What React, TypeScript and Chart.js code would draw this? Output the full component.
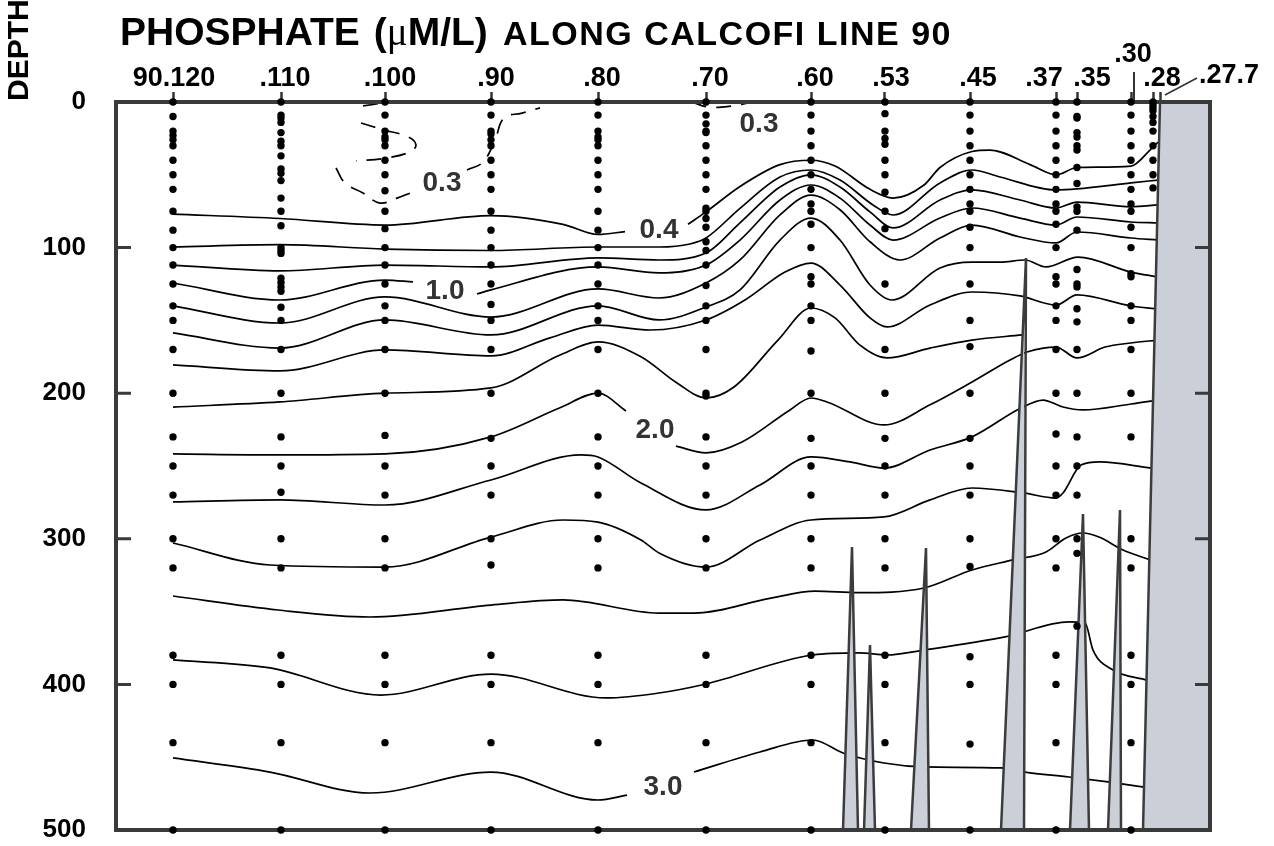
import React, { useEffect, useRef } from "react";
import { Chart, registerables } from "chart.js";

Chart.register(...registerables);

const FONT = '"Liberation Sans", Arial, Helvetica, sans-serif';

// ---------- stations (distance units along the line) ----------
const STATION_NAMES = ["90.120", ".110", ".100", ".90", ".80", ".70", ".60", ".53", ".45", ".37", ".35", ".30", ".28", ".27.7"];
const STATION_X = [57, 165, 269, 375, 482, 590, 695, 769, 854, 940, 961, 1015, 1037, 1044];
const STATION_DEPTHS: number[][] = [
  [0, 10, 20, 23, 26, 30, 40, 50, 60, 75, 88, 100, 112, 125, 140, 150, 170, 200, 230, 250, 270, 300, 320, 380, 400, 440, 500],
  [0, 9, 11, 14, 21, 27, 30, 37, 46, 49, 54, 66, 75, 85, 100, 102, 104, 121, 124, 127, 130, 141, 150, 170, 200, 230, 250, 268, 300, 320, 380, 400, 440, 500],
  [0, 9, 20, 24, 26, 30, 40, 50, 61, 75, 87, 100, 112, 125, 140, 150, 170, 200, 229, 250, 270, 300, 320, 380, 400, 440, 500],
  [0, 9, 20, 22, 26, 30, 40, 50, 60, 75, 88, 100, 112, 125, 139, 150, 170, 200, 231, 250, 270, 300, 318, 380, 400, 440, 500],
  [0, 9, 20, 24, 26, 30, 40, 50, 60, 75, 88, 100, 112, 125, 140, 150, 170, 200, 230, 250, 270, 300, 320, 380, 400, 440, 500],
  [0, 9, 15, 20, 21, 30, 40, 50, 60, 73, 75, 80, 86, 96, 102, 112, 126, 140, 150, 170, 200, 202, 230, 250, 270, 300, 320, 380, 400, 440, 500],
  [0, 9, 20, 30, 40, 50, 60, 70, 75, 84, 100, 120, 125, 140, 150, 171, 200, 231, 250, 270, 300, 320, 380, 400, 440, 500],
  [0, 8, 20, 25, 29, 40, 50, 62, 75, 87, 125, 170, 200, 231, 250, 270, 300, 320, 380, 400, 440, 500],
  [0, 9, 20, 30, 40, 50, 60, 70, 75, 86, 100, 125, 150, 168, 200, 231, 250, 270, 300, 319, 381, 400, 441, 500],
  [0, 9, 20, 30, 40, 50, 60, 70, 75, 84, 100, 120, 125, 140, 150, 170, 200, 228, 250, 270, 300, 320, 380, 400, 440, 500],
  [0, 10, 11, 21, 24, 30, 33, 45, 56, 72, 75, 88, 115, 125, 127, 142, 151, 170, 200, 230, 250, 270, 300, 310, 360],
  [0, 9, 20, 30, 40, 50, 60, 70, 75, 86, 100, 118, 120, 140, 150, 170, 200, 230, 300, 320, 380, 400, 440, 500],
  [0, 2, 4, 6, 10, 14, 20, 30, 40, 50, 59],
  [],
];
const DEPTH_TICKS = [0, 100, 200, 300, 400, 500];
const INNER_TICKS = [100, 200, 300, 400];

// ---------- phosphate isolines: [distance, depth m] ----------
const ISO_04_A = [[57, 77], [164, 80], [269, 84.5], [375, 78], [447, 84], [482, 91], [509, 89]];
const ISO_04_B = [[572, 84], [590, 75.5], [624, 58], [664, 43], [695, 40], [719, 44], [754, 60], [777, 66], [808, 57], [824, 45], [856, 34], [874, 33], [914, 43], [940, 50], [961, 45], [1015, 44], [1034, 33], [1042, 27.5]];
const ISO_05 = [[57, 99.6], [164, 98], [269, 101], [375, 102], [482, 99.6], [543, 99.6], [574, 97.5], [590, 93.4], [624, 73], [664, 51.5], [695, 46.7], [724, 53.6], [757, 70.7], [777, 77.6], [824, 55.6], [856, 46.7], [884, 51.5], [940, 60.4], [961, 59.7], [1015, 55.6], [1042, 53.6]];
const ISO_06 = [[57, 112], [164, 116], [269, 112], [375, 113.3], [482, 107], [543, 108.5], [590, 103.7], [624, 83], [664, 58.4], [695, 50], [724, 58.4], [754, 75.5], [777, 86.5], [824, 67.3], [856, 60.4], [904, 67.3], [940, 72.8], [961, 68.7], [1015, 72], [1042, 70.7]];
const ISO_10_A = [[57, 124.3], [164, 136], [269, 122.3], [297, 123.6]];
const ISO_10_B = [[361, 131.9], [375, 129], [482, 113.3], [543, 117.4], [590, 112], [624, 94.8], [664, 67.3], [695, 57], [724, 66], [754, 84.5], [777, 94.8], [824, 79.7], [856, 72.8], [904, 79.7], [940, 84.5], [961, 79], [1015, 82.4], [1042, 83.1]];
const ISO_12 = [[57, 140], [164, 151.8], [269, 133.9], [375, 147.7], [482, 128.4], [543, 134.6], [590, 124.3], [624, 108.5], [664, 77.6], [695, 64], [724, 74], [754, 96], [784, 108.5], [824, 93.4], [856, 84.5], [904, 92.7], [940, 96.8], [961, 89.3], [1015, 93.4], [1042, 94.8]];
const ISO_14 = [[57, 158.6], [164, 169], [269, 149.7], [375, 160], [482, 140], [543, 149.7], [590, 140.8], [624, 129], [664, 94.8], [695, 79.7], [724, 94.8], [754, 125.7], [776, 136], [824, 114], [856, 110], [884, 110], [909, 108.5], [930, 113.3], [962, 106.5], [1015, 116.8], [1042, 120.2]];
const ISO_16 = [[57, 180.6], [164, 184.7], [269, 170.3], [375, 174.4], [434, 162], [482, 153.2], [534, 156.6], [590, 149.7], [629, 136], [669, 116.8], [695, 110.6], [724, 125.7], [754, 148.3], [771, 154.5], [814, 139.4], [856, 130.5], [904, 133.2], [940, 139.4], [961, 132.5], [1015, 140.1], [1042, 142.2]];
const ISO_18 = [[57, 209.5], [164, 206], [269, 200], [375, 196.4], [444, 173.8], [482, 164.8], [525, 175], [561, 193], [590, 203.3], [618, 195.7], [662, 163.5], [695, 141.5], [719, 148.3], [744, 167], [771, 175.8], [814, 169], [856, 163.5], [906, 160]];
const ISO_20_A = [[57, 241.7], [164, 242.4], [269, 241.7], [375, 230], [444, 210], [482, 199.9], [510, 212.2]];
const ISO_20_B = [[560, 236.3], [590, 241], [626, 233.5], [674, 211.5], [695, 203.3], [711, 206], [768, 221.8], [814, 208], [856, 192.3], [894, 177.2], [911, 171.7], [940, 168.3], [961, 175.8], [989, 168.3], [1015, 165.5], [1042, 163.5]];
const ISO_22 = [[57, 274.7], [164, 273.3], [269, 276.8], [375, 259.6], [465, 242.4], [482, 243.8], [525, 261.7], [590, 280.2], [644, 263], [695, 243.8], [734, 247.2], [768, 251.4], [814, 239], [856, 230], [905, 210.2], [927, 204.7], [947, 209.5], [967, 211.5], [1015, 207.4], [1042, 204.7]];
const ISO_24 = [[57, 302.9], [154, 318], [269, 319.4], [375, 298.8], [447, 287.1], [482, 288.5], [525, 300.8], [543, 309.7], [590, 319.4], [644, 300.8], [695, 287.1], [768, 285], [814, 273.3], [856, 265.1], [907, 268.5], [940, 272], [947, 268.5], [965, 249.3], [984, 247.2], [1035, 251.4]];
const ISO_26 = [[57, 339.3], [162, 348.9], [254, 353.7], [375, 345.5], [447, 342], [543, 351], [578, 351], [655, 340.7], [699, 336], [743, 337], [808, 333.8], [856, 321.4], [897, 314.5], [930, 309], [950, 299.4], [967, 296], [983, 298.8], [1007, 307.7], [1034, 314.5]];
const ISO_28 = [[57, 383.2], [154, 388.7], [265, 407.3], [375, 392.9], [490, 409.3], [543, 405.9], [590, 399.7], [697, 379.8], [743, 378.4], [771, 379.8], [808, 376.4], [889, 367.4], [953, 357.1], [969, 357.8], [977, 376.4], [997, 390.1], [1031, 397]];
const ISO_30_A = [[57, 450.5], [154, 460.2], [254, 474.6], [375, 460.2], [482, 479.4], [511, 476]];
const ISO_30_B = [[578, 460.2], [644, 446.4], [697, 438.2], [727, 447.1], [768, 454], [808, 456.7], [885, 457.4], [909, 460.2], [953, 463.6], [992, 467], [1028, 470.5]];

// dashed 0.3 isolines
const ISO_03_A = [[247, 2.7], [267, 0.7]];
const ISO_03_B = [[245, 14.4], [268, 19.2], [292, 24], [300, 29.5], [294, 34.3], [270, 38.5], [240, 40.5]];
const ISO_03_C = [[220, 45.3], [229, 55.6], [247, 62.5], [264, 69.4], [281, 66], [297, 61.8]];
const ISO_03_D = [[351, 46.7], [367, 41.2], [379, 26], [388, 11], [406, 7.6], [424, 4]];
const ISO_03_E = [[576, 0], [592, 3.4], [616, 2.7], [636, 0]];

const SOLID_LINES = [ISO_04_A, ISO_04_B, ISO_05, ISO_06, ISO_10_A, ISO_10_B, ISO_12, ISO_14, ISO_16, ISO_18, ISO_20_A, ISO_20_B, ISO_22, ISO_24, ISO_26, ISO_28, ISO_30_A, ISO_30_B];
const DASHED_LINES = [ISO_03_A, ISO_03_B, ISO_03_C, ISO_03_D, ISO_03_E];

// bottom topography (banks) and the shelf: [distance, depth m]
const BANK_1 = [[727, 500], [736, 305.6], [742, 500]];
const BANK_2 = [[748, 500], [754, 372.9], [759, 500]];
const BANK_3 = [[795, 500], [810, 306.3], [813, 500]];
const BANK_4 = [[885, 500], [910, 107.1], [908, 500]];
const BANK_5 = [[954, 500], [967, 283], [973, 500]];
const BANK_6 = [[992, 500], [1004, 280.2], [1005, 500]];
const SHELF = [[1027, 500], [1044, 0], [1094, 0]];
const BANKS = [BANK_1, BANK_2, BANK_3, BANK_4, BANK_5, BANK_6, SHELF];

// contour value labels
const LABEL_TEXT = ["0.3", "0.3", "0.4", "1.0", "2.0", "3.0"];
const LABEL_X = [326, 643, 543, 329, 539, 547];
const LABEL_DEPTH = [54.3, 13.4, 86.5, 128.4, 224, 469];

// station label placement (pixel nudges / centre heights)
const NAME_DX = [1, 4, 5, 5, 4, 4, 4, 6, 8, -12, 15, 2, 9, 39];
const NAME_CY = [76, 76, 76, 76, 76, 76, 76, 76, 76, 76, 76, 52, 76, 73];

const toXY = (pts: number[][]) => pts.map(([x, y]) => ({ x, y }));

const overlay = {
  id: "overlay",
  beforeDatasetDraw(chart: any, args: any) {
    if (chart.data.datasets[args.index].label !== "stations") return;
    const { ctx, chartArea: a, scales } = chart;
    ctx.save();
    ctx.strokeStyle = "#3a3a3a";
    ctx.lineWidth = 4;
    ctx.strokeRect(a.left, a.top, a.right - a.left, a.bottom - a.top);
    ctx.lineWidth = 3;
    INNER_TICKS.forEach((v) => {
      const py = scales.y.getPixelForValue(v);
      ctx.beginPath();
      ctx.moveTo(a.left, py);
      ctx.lineTo(a.left + 15, py);
      ctx.moveTo(a.right - 15, py);
      ctx.lineTo(a.right, py);
      ctx.stroke();
    });
    ctx.restore();
  },
  afterDraw(chart: any) {
    const { ctx, scales } = chart;
    const xs = scales.x;
    const ys = scales.y;
    ctx.save();
    ctx.fillStyle = "#000";
    ctx.textAlign = "left";
    ctx.textBaseline = "alphabetic";
    // title
    let tx = 120;
    ctx.font = `bold 39px ${FONT}`;
    ctx.fillText("PHOSPHATE", tx, 45);
    tx += ctx.measureText("PHOSPHATE").width + 14;
    ctx.fillText("(", tx, 45);
    tx += ctx.measureText("(").width;
    ctx.font = `39px "Liberation Serif", "DejaVu Serif", serif`;
    ctx.fillText("\u03bc", tx, 45);
    tx += ctx.measureText("\u03bc").width;
    ctx.font = `bold 39px ${FONT}`;
    ctx.fillText("M/L)", tx, 45);
    ctx.font = `bold 34px ${FONT}`;
    (ctx as any).letterSpacing = "1.5px";
    ctx.fillText("ALONG CALCOFI LINE 90", 503, 45);
    (ctx as any).letterSpacing = "0px";
    // DEPTH
    ctx.save();
    ctx.translate(28, 101);
    ctx.rotate(-Math.PI / 2);
    ctx.font = `bold 30px ${FONT}`;
    ctx.fillText("DEPTH", 0, 0);
    ctx.restore();
    // station names
    ctx.font = `bold 27px ${FONT}`;
    STATION_NAMES.forEach((name, i) => {
      const px = xs.getPixelForValue(STATION_X[i]) + NAME_DX[i];
      ctx.textAlign = i === STATION_NAMES.length - 1 ? "left" : "center";
      ctx.fillText(name, px, NAME_CY[i] + 10);
    });
    // long tick for .30 and leader for .27.7
    ctx.strokeStyle = "#333";
    ctx.lineWidth = 2;
    const p30 = xs.getPixelForValue(STATION_X[11]);
    ctx.beginPath();
    ctx.moveTo(p30 + 3, 72);
    ctx.lineTo(p30 + 3, 100);
    ctx.stroke();
    const p277 = xs.getPixelForValue(STATION_X[13]);
    ctx.lineWidth = 1.5;
    ctx.beginPath();
    ctx.moveTo(p277 + 5, 95);
    ctx.lineTo(p277 + 37, 78);
    ctx.stroke();
    // isoline labels
    ctx.fillStyle = "#333";
    ctx.textAlign = "center";
    ctx.font = `bold 28px ${FONT}`;
    LABEL_TEXT.forEach((t, i) => {
      ctx.fillText(t, xs.getPixelForValue(LABEL_X[i]), ys.getPixelForValue(LABEL_DEPTH[i]) + 10);
    });
    ctx.restore();
  },
};

export default function App() {
  const ref = useRef<HTMLCanvasElement | null>(null);
  useEffect(() => {
    if (!ref.current) return;
    const datasets: any[] = [];
    SOLID_LINES.forEach((pts) =>
      datasets.push({
        label: "iso",
        data: toXY(pts),
        borderColor: "#000",
        borderWidth: 1.7,
        pointRadius: 0,
        cubicInterpolationMode: "monotone",
        borderJoinStyle: "round",
        fill: false,
        order: 3,
      })
    );
    DASHED_LINES.forEach((pts) =>
      datasets.push({
        label: "iso-dashed",
        data: toXY(pts),
        borderColor: "#000",
        borderWidth: 1.7,
        borderDash: [15, 10],
        pointRadius: 0,
        tension: 0.4,
        fill: false,
        order: 3,
      })
    );
    BANKS.forEach((pts) =>
      datasets.push({
        label: "bank",
        data: toXY(pts),
        borderColor: "#3c3c3c",
        borderWidth: 2.5,
        backgroundColor: "#cbd0d8",
        fill: { value: 500 },
        tension: 0,
        pointRadius: 0,
        order: 2,
      })
    );
    const dots: { x: number; y: number }[] = [];
    STATION_X.forEach((sx, i) => STATION_DEPTHS[i].forEach((d) => dots.push({ x: sx, y: d })));
    datasets.push({
      label: "stations",
      data: dots,
      showLine: false,
      pointRadius: 3.7,
      pointHoverRadius: 3.7,
      pointBackgroundColor: "#000",
      pointBorderWidth: 0,
      clip: false,
      order: 0,
    });

    const chart = new Chart(ref.current, {
      type: "line",
      data: { datasets },
      options: {
        animation: false,
        responsive: false,
        devicePixelRatio: 1,
        events: [],
        layout: { padding: { left: 0, right: 64, top: 0, bottom: 16 } },
        plugins: { legend: { display: false }, tooltip: { enabled: false }, title: { display: false } },
        scales: {
          x: {
            type: "linear",
            position: "top",
            min: 0,
            max: 1094,
            afterBuildTicks: (s: any) => {
              s.ticks = STATION_X.map((v) => ({ value: v }));
            },
            afterFit: (s: any) => {
              s.height = 102;
              s.paddingLeft = 0;
              s.paddingRight = 0;
            },
            ticks: { display: false },
            grid: { display: true, drawOnChartArea: false, drawTicks: true, tickLength: 10, tickColor: "#333", tickWidth: 2.5 },
            border: { display: false },
          },
          y: {
            type: "linear",
            position: "left",
            reverse: true,
            min: 0,
            max: 500,
            afterBuildTicks: (s: any) => {
              s.ticks = DEPTH_TICKS.map((v) => ({ value: v }));
            },
            afterFit: (s: any) => {
              s.width = 116;
              s.paddingTop = 0;
              s.paddingBottom = 0;
            },
            ticks: { font: { family: FONT, size: 26, weight: "bold" }, color: "#000", padding: 30 },
            grid: { display: false, drawTicks: false },
            border: { display: false },
          },
        },
      } as any,
      plugins: [overlay],
    });
    return () => chart.destroy();
  }, []);

  return (
    <div style={{ position: "fixed", left: 0, top: 0, width: 1274, height: 846, background: "#fff" }}>
      <canvas ref={ref} width={1274} height={846} style={{ display: "block" }} />
    </div>
  );
}
